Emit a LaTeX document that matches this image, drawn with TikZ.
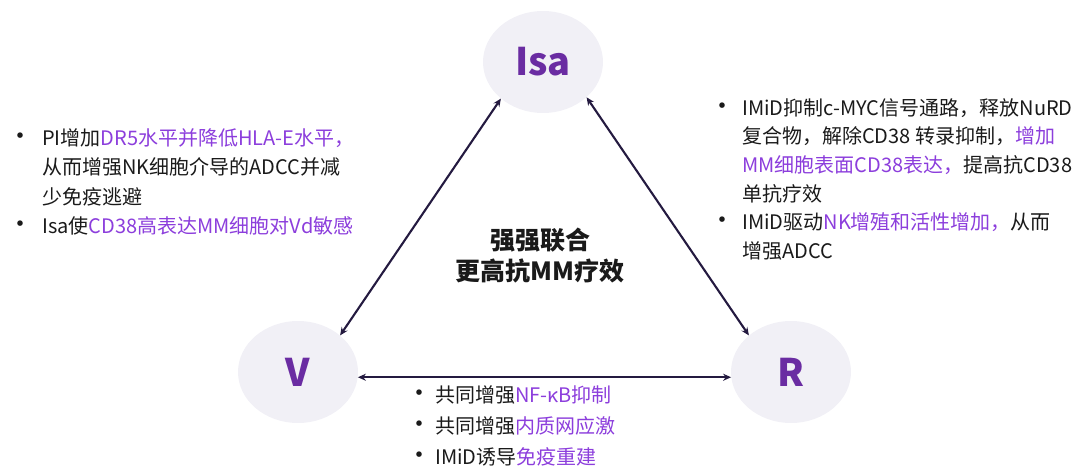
\documentclass[tikz,border=0pt]{standalone}
\usepackage{fontspec}
\setmainfont{Noto Sans CJK SC}
\usetikzlibrary{shapes.geometric,arrows.meta}
\definecolor{bubfill}{HTML}{F1F0F6}
\definecolor{labpurple}{HTML}{6A2CA2}
\definecolor{hipurple}{HTML}{8C3EDC}
\definecolor{arrowcol}{HTML}{241A40}
\definecolor{txtblack}{HTML}{1A1A1A}
\newcommand{\hp}[1]{\textcolor{hipurple}{#1}}
\newcommand{\bu}{{\fontsize{26}{20}\selectfont\textbullet}}
\tikzset{
 bub/.style={ellipse,fill=bubfill,inner sep=0pt,minimum width=120pt,minimum height=102pt,
   text=labpurple,font=\fontsize{38}{40}\selectfont\bfseries},
 note/.style={anchor=base west,inner sep=0pt,text=txtblack},
 dbl/.style={{Stealth[length=8pt,width=7pt]}-{Stealth[length=8pt,width=7pt]},line width=2.1pt,draw=arrowcol}}

\begin{document}
\begin{tikzpicture}[x=1pt,y=-1pt]
 \useasboundingbox (0,0) rectangle (1080,474);
 \node[bub] (isa) at (543,62) {Isa};
 \node[bub] (v) at (298,372) {V};
 \node[bub] (r) at (791,372) {R};
 \draw[dbl] (isa.221) -- (v.41);
 \draw[dbl] (isa.-39) -- (r.139);
 \draw[dbl] (v.-5) -- (r.185);
 \node[align=center,inner sep=0pt,text=txtblack,font=\fontsize{25}{31}\selectfont\bfseries] (mid) at (540,256)
  {强强联合\\更高抗MM疗效};
 \node[note,font=\fontsize{20}{29.5}\selectfont] (left) at (7,145)
  {\begin{tabular}[t]{@{}p{35pt}@{}l@{}}
   \bu & PI增加\hp{DR5水平并降低HLA-E水平，}\\
   & 从而增强NK细胞介导的ADCC并减\\
   & 少免疫逃避\\
   \bu & Isa使\hp{CD38高表达MM细胞对Vd敏感}
  \end{tabular}};
 \node[note,font=\fontsize{20}{28.7}\selectfont] (right) at (709,115)
  {\begin{tabular}[t]{@{}p{33pt}@{}l@{}}
   \bu & IMiD抑制c-MYC信号通路，释放NuRD\\
   & 复合物，解除CD38 转录抑制，\hp{增加}\\
   & \hp{MM细胞表面CD38表达，}提高抗CD38\\
   & 单抗疗效\\
   \bu & IMiD驱动\hp{NK增殖和活性增加，}从而\\
   & 增强ADCC
  \end{tabular}};
 \node[note,font=\fontsize{20}{31}\selectfont] (bottom) at (406,402)
  {\begin{tabular}[t]{@{}p{29pt}@{}l@{}}
   \bu & 共同增强\hp{NF-κB抑制}\\
   \bu & 共同增强\hp{内质网应激}\\
   \bu & IMiD诱导\hp{免疫重建}
  \end{tabular}};
\end{tikzpicture}
\end{document}
